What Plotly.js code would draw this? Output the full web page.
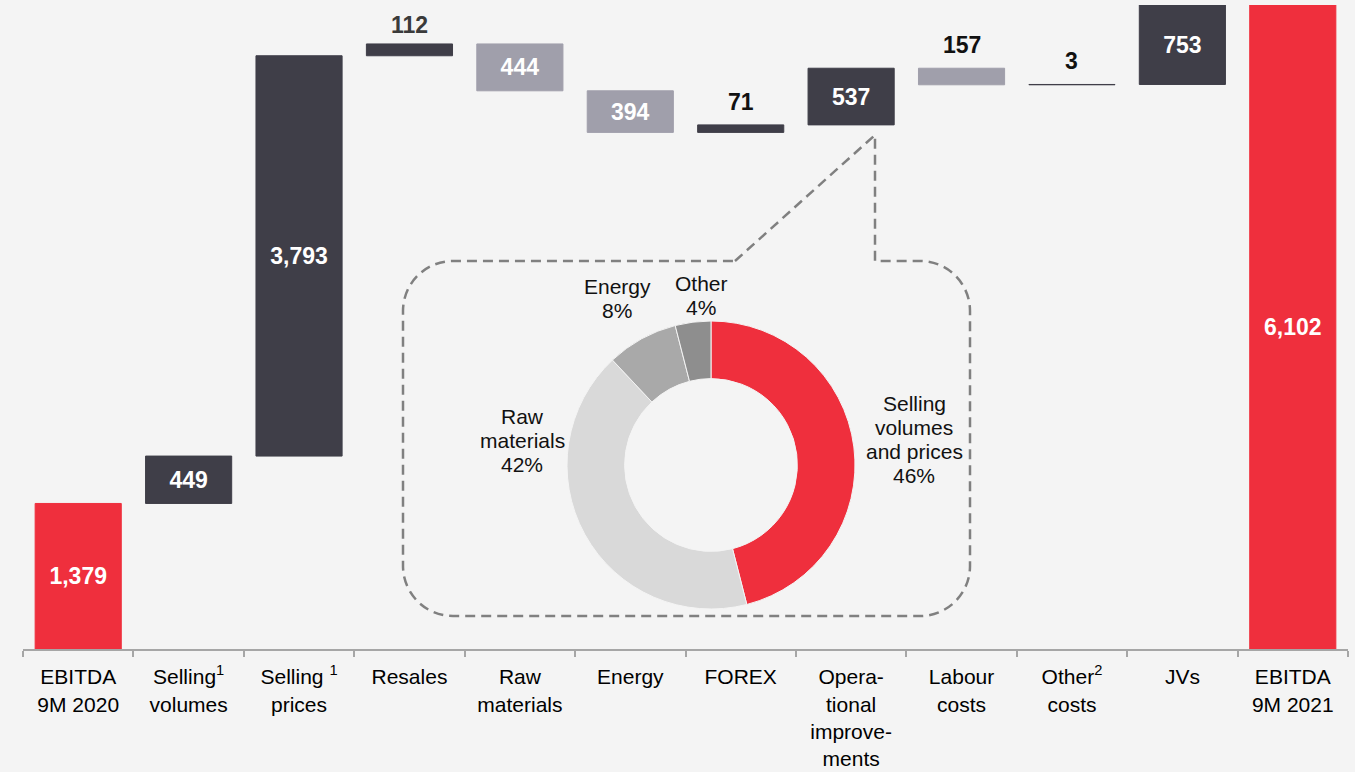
<!DOCTYPE html>
<html>
<head>
<meta charset="utf-8">
<script src="https://cdn.plot.ly/plotly-3.0.1.min.js"></script>
<style>
html,body{margin:0;padding:0;background:#f4f4f4;}
#chart{width:1355px;height:772px;}
</style>
</head>
<body>
<div id="chart"></div>
<script>
// ---------------- data ----------------
const categories = [
  'EBITDA<br>9M 2020', 'Selling<sup>1</sup><br>volumes', 'Selling <sup>1</sup><br>prices',
  'Resales', 'Raw<br>materials', 'Energy', 'FOREX',
  'Opera-<br>tional<br>improve-<br>ments', 'Labour<br>costs', 'Other<sup>2</sup><br>costs',
  'JVs', 'EBITDA<br>9M 2021'
];
const measures = ['absolute','relative','relative','relative','relative','relative',
                  'relative','relative','relative','relative','relative','total'];
const deltas = [1379, 449, 3793, 112, -444, -394, 71, 537, -157, 3, 753, 6102];

const pieLabels = ['Selling<br>volumes<br>and prices', 'Raw<br>materials', 'Energy', 'Other'];
const pieShares = [46, 42, 8, 4];

// ---------------- styling ----------------
const RED = '#ef2f3d', DARK = '#3f3e48', LIGHT = '#a09fab', BG = '#f4f4f4';
const FONT = 'Liberation Sans, Arial, sans-serif';
const M = {l: 23, r: 7, t: 5, b: 123};
const W = 1355 - M.l - M.r, H = 772 - M.t - M.b;
const px = x => (x - M.l) / W;
const py = y => (M.t + H - y) / H;

// waterfall geometry from the data
const bases = [], heights = [], colors = [];
let run = 0;
deltas.forEach((v, i) => {
  const m = measures[i];
  if (m === 'absolute' || m === 'total') {
    bases.push(0); heights.push(v); colors.push(RED); run = v;
  } else {
    const next = run + v;
    bases.push(Math.min(run, next)); heights.push(Math.abs(v));
    colors.push(v >= 0 ? DARK : LIGHT); run = next;
  }
});
const fmt = v => Math.abs(v).toLocaleString('en-US');
const isInside = deltas.map(v => Math.abs(v) >= 300);

const barTrace = {
  type: 'bar',
  x: categories,
  y: heights,
  base: bases,
  width: 0.78,
  marker: {color: colors, line: {color: colors, width: 1}},
  text: deltas.map(v => fmt(v)),
  textposition: isInside.map(b => b ? 'inside' : 'none'),
  insidetextanchor: 'middle',
  constraintext: 'none',
  textangle: 0,
  textfont: {family: FONT, size: 23, color: '#ffffff', weight: 'bold'},
  hoverinfo: 'skip',
  cliponaxis: false,
  showlegend: false
};

const pieTrace = {
  type: 'pie',
  values: pieShares,
  labels: pieLabels,
  sort: false,
  direction: 'clockwise',
  rotation: 0,
  hole: 0.6,
  textinfo: 'none',
  hoverinfo: 'skip',
  marker: {colors: [RED, '#d9d9d9', '#a9a9a9', '#8e8e8e'], line: {color: BG, width: 1}},
  domain: {x: [px(567), px(855)], y: [py(609), py(321)]},
  showlegend: false
};

const annotations = [];
// outside value labels
deltas.forEach((v, i) => {
  if (isInside[i]) return;
  annotations.push({
    x: categories[i], y: bases[i] + heights[i], xref: 'x', yref: 'y',
    text: fmt(v), showarrow: false, yanchor: 'bottom', yshift: i === 3 ? 4 : 8,
    font: {family: FONT, size: 23, weight: 'bold', color: i === 3 ? '#3a3a3a' : '#111111'}
  });
});
// donut labels (one annotation per line for tight line spacing)
const pieLabelPos = [
  {cx: 914, y0: 411}, {cx: 522, y0: 424}, {cx: 617, y0: 294}, {cx: 701, y0: 291}
];
const PSIZE = 21, PSPACE = 24;
pieLabels.forEach((lab, i) => {
  const lines = lab.split('<br>').concat([pieShares[i] + '%']);
  lines.forEach((ln, j) => {
    const base = pieLabelPos[i].y0 + j * PSPACE;
    annotations.push({
      x: px(pieLabelPos[i].cx), y: py(base - 0.347 * PSIZE), xref: 'paper', yref: 'paper',
      text: ln, showarrow: false, xanchor: 'center', yanchor: 'middle',
      font: {family: FONT, size: PSIZE, color: '#111111'}
    });
  });
});

// dashed callout
const Lx = 403, Rx = 970, Ty = 261, By = 616, r = 50, k = 0.5523 * r;
const P = (x, y) => px(x) + ',' + py(y);
const callout =
  'M' + P(735, Ty) + ' L' + P(875, 135) + ' L' + P(875, Ty) + ' L' + P(Rx - r, Ty) +
  ' C' + P(Rx - r + k, Ty) + ' ' + P(Rx, Ty + r - k) + ' ' + P(Rx, Ty + r) +
  ' L' + P(Rx, By - r) +
  ' C' + P(Rx, By - r + k) + ' ' + P(Rx - r + k, By) + ' ' + P(Rx - r, By) +
  ' L' + P(Lx + r, By) +
  ' C' + P(Lx + r - k, By) + ' ' + P(Lx, By - r + k) + ' ' + P(Lx, By - r) +
  ' L' + P(Lx, Ty + r) +
  ' C' + P(Lx, Ty + r - k) + ' ' + P(Lx + r - k, Ty) + ' ' + P(Lx + r, Ty) +
  ' Z';

const layout = {
  width: 1355, height: 772,
  margin: M,
  paper_bgcolor: BG, plot_bgcolor: BG,
  font: {family: FONT, color: '#000'},
  xaxis: {
    type: 'category', range: [-0.5, 11.5], fixedrange: true,
    showline: true, linecolor: '#a6a6a6', linewidth: 2,
    ticks: 'outside', tickson: 'boundaries', ticklen: 6, tickwidth: 2, tickcolor: '#a6a6a6',
    showgrid: false, zeroline: false, tickangle: 0, automargin: false,
    ticklabelstandoff: 8,
    tickfont: {family: FONT, size: 21, color: '#000'}
  },
  yaxis: {range: [0, 6102], visible: false, fixedrange: true, showgrid: false, zeroline: false},
  shapes: [{
    type: 'path', xref: 'paper', yref: 'paper', path: callout,
    line: {color: '#808080', width: 2.5, dash: '10px,6px'}, fillcolor: 'rgba(0,0,0,0)', layer: 'above'
  }],
  annotations: annotations,
  showlegend: false,
  hovermode: false
};

Plotly.newPlot('chart', [barTrace, pieTrace], layout, {displayModeBar: false, staticPlot: true});
</script>
</body>
</html>
